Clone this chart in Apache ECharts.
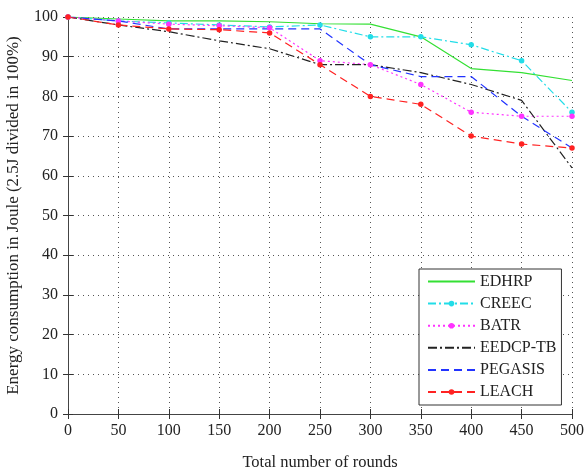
<!DOCTYPE html>
<html>
<head>
<meta charset="utf-8">
<script src="https://cdn.jsdelivr.net/npm/echarts@6/dist/echarts.min.js"></script>
<style>
html,body{margin:0;padding:0;background:#fff;}
#c{width:585px;height:469px;}
</style>
</head>
<body>
<div id="c"></div>
<script>
const rounds = [0, 50, 100, 150, 200, 250, 300, 350, 400, 450, 500];
const edhrp   = [100, 99.5, 99, 99, 98.8, 98.3, 98.2, 95, 87, 86, 84];
const creec   = [100, 99, 98.5, 98, 97.5, 98, 95, 95, 93, 89, 76];
const batr    = [100, 99, 98.2, 97.8, 97.3, 89, 88, 83, 76, 75, 75];
const eedcptb = [100, 98, 96.3, 94, 92, 88, 88, 86, 83, 79, 62];
const pegasis = [100, 99, 97, 97, 97, 97, 88, 85, 85, 75, 67];
const leach   = [100, 98, 97, 96.8, 96, 88, 80, 78, 70, 68, 67];
const xTicks = [0, 50, 100, 150, 200, 250, 300, 350, 400, 450, 500];
const yTicks = [0, 10, 20, 30, 40, 50, 60, 70, 80, 90, 100];
const names = ['EDHRP','CREEC','BATR','EEDCP-TB','PEGASIS','LEACH'];
const hasMarker = [false, true, true, false, false, true];

const font = 'Liberation Serif';
function pts(v){ return rounds.map((x,i)=>[x, v[i]]); }
function s(name, data, color, type, marker){
  return {
    name, type:'line', data: pts(data),
    symbol: marker ? 'circle' : 'none', symbolSize: 5.5, showSymbol: !!marker,
    lineStyle:{color, width:1.2, type},
    itemStyle:{color},
    animation:false, z: 3
  };
}
const chart = echarts.init(document.getElementById('c'), null, {renderer:'canvas'});
const axisCommon = {
  type:'value', axisLine:{show:true, lineStyle:{color:'#444', width:1}},
  axisTick:{show:true, inside:true, length:5, lineStyle:{color:'#333'}},
};
chart.setOption({
  backgroundColor:'#fff',
  animation:false,
  grid:{left:68, right:13, top:17, bottom:55, show:false, containLabel:false, outerBoundsMode:'none'},
  xAxis:[
    Object.assign({}, axisCommon, {
      min:0, max:500, interval:50, position:'bottom',
      name:'Total number of rounds', nameLocation:'middle', nameGap:40,
      nameTextStyle:{fontFamily:font, fontSize:16.5, color:'#222'},
      axisLabel:{fontFamily:font, fontSize:16, color:'#222', margin:9,
        formatter:v=> xTicks.includes(v) ? String(v) : ''},
      splitLine:{show:true, lineStyle:{color:'#555', type:[1,4], width:1}}
    }),
    Object.assign({}, axisCommon, {
      min:0, max:500, interval:50, position:'top',
      axisLabel:{show:false}, splitLine:{show:false}
    })
  ],
  yAxis:[
    Object.assign({}, axisCommon, {
      min:0, max:100, interval:10, position:'left',
      name:'Energy consumption in Joule (2.5J divided in 100%)', nameLocation:'middle', nameGap:46,
      nameTextStyle:{fontFamily:font, fontSize:17, color:'#222'},
      axisLabel:{fontFamily:font, fontSize:16, color:'#222', margin:10,
        formatter:v=> yTicks.includes(v) ? String(v) : ''},
      splitLine:{show:true, lineStyle:{color:'#555', type:[1,4], width:1}}
    }),
    Object.assign({}, axisCommon, {
      min:0, max:100, interval:10, position:'right',
      axisLabel:{show:false}, splitLine:{show:false}
    })
  ],
  legend:{
    orient:'vertical', left:419, top:269,
    padding:[4.5, 5, 5, 8], itemGap:6.1, itemWidth:47, itemHeight:7,
    backgroundColor:'#fff', borderColor:'#333', borderWidth:1,
    textStyle:{fontFamily:font, fontSize:16, color:'#222'},
    data: names.map((n,i)=> hasMarker[i] ? {name:n} : {name:n, itemStyle:{opacity:0}})
  },
  series:[
    s(names[0], edhrp, '#33e033', 'solid', hasMarker[0]),
    s(names[1], creec, '#22dde8', [8,3,2,3], hasMarker[1]),
    s(names[2], batr, '#ff33ff', [2,3], hasMarker[2]),
    s(names[3], eedcptb, '#222222', [9,3,2,3], hasMarker[3]),
    s(names[4], pegasis, '#2233ff', [8,5], hasMarker[4]),
    s(names[5], leach, '#ff2222', [8,5], hasMarker[5])
  ]
});
</script>
</body>
</html>
